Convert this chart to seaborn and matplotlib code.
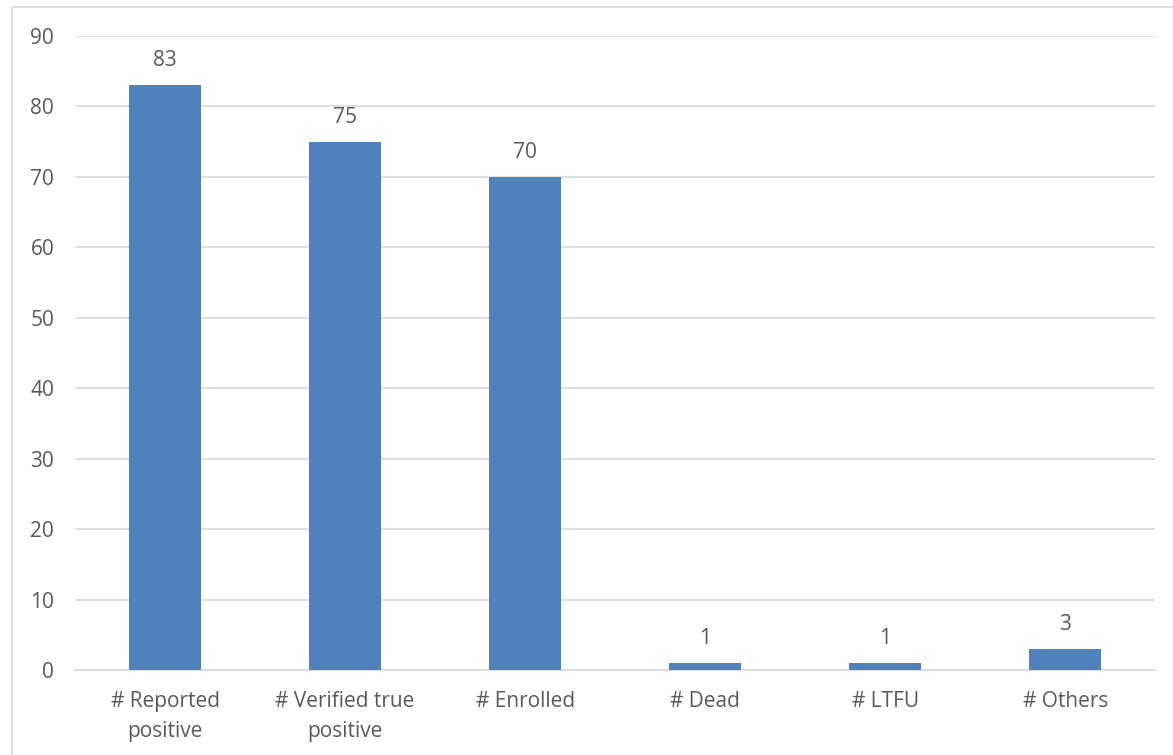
import matplotlib
matplotlib.use("Agg")
import matplotlib.pyplot as plt
import seaborn as sns
import pandas as pd
from matplotlib.patches import Rectangle

categories = ["# Reported\npositive", "# Verified true\npositive", "# Enrolled",
              "# Dead", "# LTFU", "# Others"]
counts = [83, 75, 70, 1, 1, 3]

df = pd.DataFrame({"category": categories, "count": counts})

sns.set_style("white")
plt.rcParams["font.family"] = ["Open Sans", "DejaVu Sans"]
text_color = "#595959"

fig = plt.figure(figsize=(11.73, 7.55), dpi=100)
ax = fig.add_axes([0.064, 0.1126, 0.921, 0.8397])

sns.barplot(data=df, x="category", y="count", color="#4F81BD", width=0.4,
            saturation=1, linewidth=0, ax=ax, zorder=3)

ax.set_ylim(0, 90)
ax.set_yticks(range(0, 91, 10))
ax.set_xlim(-0.5, len(categories) - 0.5)
ax.yaxis.grid(True, color="#D9D9D9", linewidth=1.2, zorder=0)
ax.set_axisbelow(True)
for s in ["top", "right", "left"]:
    ax.spines[s].set_visible(False)
ax.spines["bottom"].set_color("#D9D9D9")
ax.spines["bottom"].set_linewidth(1.2)
ax.set_xlabel("")
ax.set_ylabel("")
ax.tick_params(axis="both", length=0, labelsize=15, labelcolor=text_color)
ax.tick_params(axis="y", pad=15)
ax.tick_params(axis="x", pad=15)
for lbl in ax.get_xticklabels():
    lbl.set_linespacing(1.6)

for i, v in enumerate(counts):
    ax.annotate(str(v), (i, v), xytext=(0, 10), textcoords="offset points",
                ha="center", va="bottom", fontsize=15, color=text_color)

fig.patches.append(Rectangle((12 / 1173, -0.1), 1.2, 1 - 7 / 755 + 0.1,
                             transform=fig.transFigure, fill=False,
                             edgecolor="#D9D9D9", linewidth=1.2))

fig.savefig("out.png", dpi=100)
